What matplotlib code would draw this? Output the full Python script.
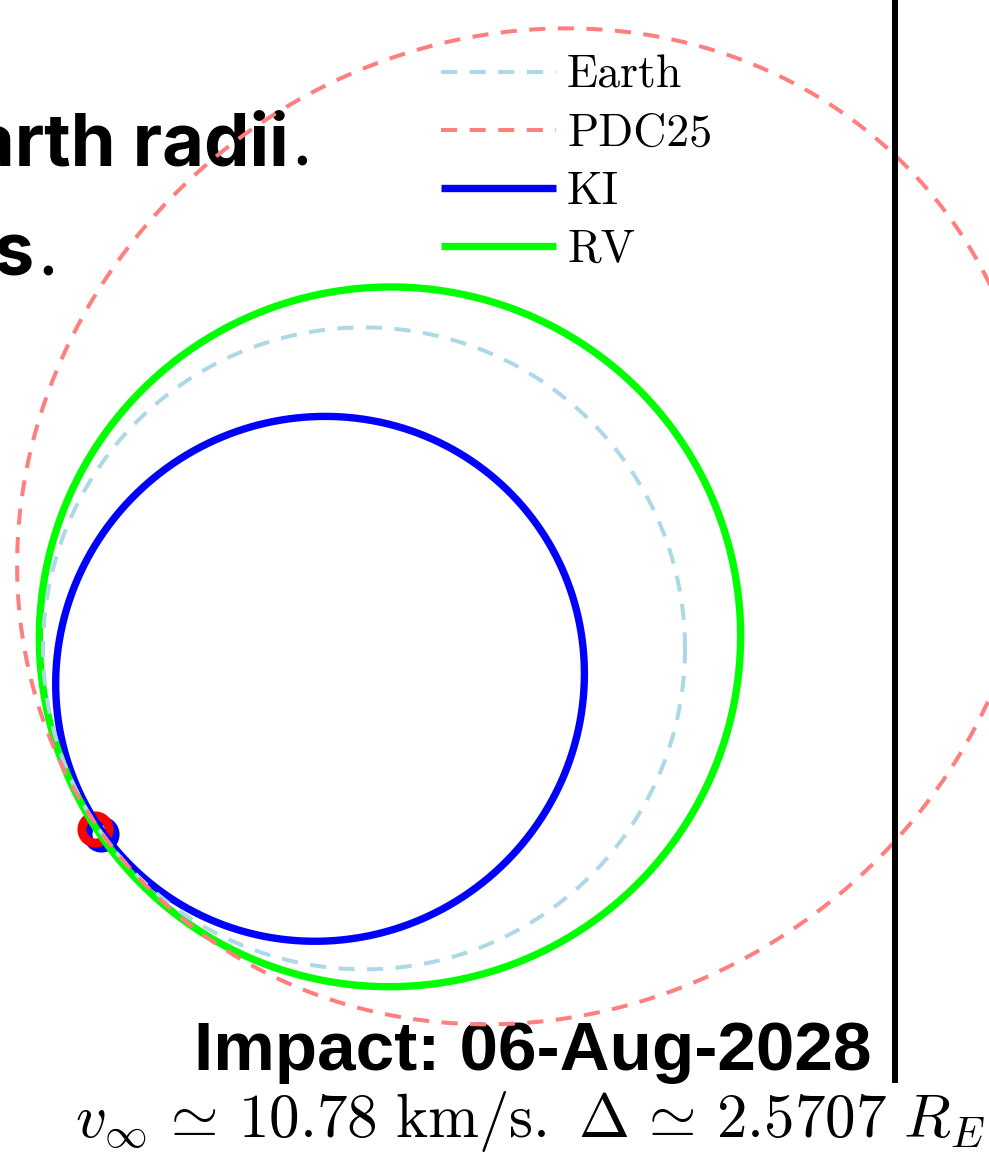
import numpy as np
import matplotlib.pyplot as plt
from matplotlib.lines import Line2D

plt.rcParams['mathtext.fontset'] = 'cm'

# heliocentric orbits in AU: semi-major axis, eccentricity, longitude of perihelion (deg)
orbit_names = ['Earth', 'PDC25', 'KI', 'RV']
orbit_a = [1.0, 1.632, 0.829, 1.093]
orbit_e = [0.0, 0.388, 0.201, 0.081]
orbit_w = [0.0, 216.9, 34.7, 204.0]

# positions at impact (AU)
pdc_pos = [-0.838, -0.562]
ki_pos = [-0.819, -0.578]

impact_date = '06-Aug-2028'
v_inf = 10.78      # km/s
delta = 2.5707     # Earth radii

colors = {'Earth': 'lightblue', 'PDC25': '#ff7f7f', 'KI': 'blue', 'RV': 'lime'}
styles = {'Earth': dict(lw=2.9, ls=(0, (4.0, 3.1)), zorder=3),
          'PDC25': dict(lw=2.9, ls=(0, (4.0, 3.1)), zorder=4),
          'KI': dict(lw=5.3, ls='-', zorder=2),
          'RV': dict(lw=5.3, ls='-', zorder=2)}

fig = plt.figure(figsize=(9.89, 11.61), dpi=100)
ax = fig.add_axes([0, 0, 1, 1])
ax.set_xlim(-1.134, 1.947)
ax.set_ylim(-1.597, 2.020)
ax.axis('off')

th = np.linspace(0, 2 * np.pi, 1441)
handles = {}
for name, a, e, w in zip(orbit_names, orbit_a, orbit_e, orbit_w):
    r = a * (1 - e**2) / (1 + e * np.cos(th - np.radians(w)))
    ln, = ax.plot(r * np.cos(th), r * np.sin(th), color=colors[name],
                  label=name, solid_capstyle='butt', **styles[name])
    handles[name] = ln

# impact markers
ax.plot(ki_pos[0], ki_pos[1], 'o', ms=19.5, mfc='none', mec='blue', mew=6.5, zorder=1.5)
ax.plot(pdc_pos[0], pdc_pos[1], 'o', ms=19.5, mfc='none', mec='red', mew=6.5, zorder=1.6)

ax.legend(handles=[handles[n] for n in orbit_names], loc='upper left',
          bbox_to_anchor=(441 / 989, 1 - 55 / 1161), bbox_transform=fig.transFigure,
          frameon=False, prop={'family': 'cmr10', 'size': 33},
          handlelength=2.5, handletextpad=0.25, labelspacing=0.36,
          borderpad=0, borderaxespad=0)

# separator on the right
fig.add_artist(Line2D([895 / 989, 895 / 989], [1 - 1080 / 1161, 1.0],
                      color='black', lw=4.3))

tr = fig.transFigure
ax.text(289 / 989, 1 - 165 / 1161, 'Earth radii', transform=tr, ha='right',
        va='baseline', family='Inter', weight='bold', fontsize=52, zorder=1)
ax.text(291 / 989, 1 - 165 / 1161, '.', transform=tr, ha='left',
        va='baseline', family='Inter', fontsize=52, zorder=1)
ax.text(34 / 989, 1 - 275 / 1161, 'days', transform=tr, ha='right',
        va='baseline', family='Inter', weight='bold', fontsize=52, zorder=1)
ax.text(37 / 989, 1 - 275 / 1161, '.', transform=tr, ha='left',
        va='baseline', family='Inter', fontsize=52, zorder=1)

ax.text(871 / 989, 1 - 1070 / 1161, 'Impact: ' + impact_date, transform=tr,
        ha='right', va='baseline', family='Liberation Sans', weight='bold',
        fontsize=49.9, zorder=1)
ax.text(75 / 989, 1 - 1137 / 1161,
        r'$v_\infty\,\simeq\,%.2f\ \mathrm{km/s.}\ \Delta\,\simeq\,%.4f\ R_E$' % (v_inf, delta),
        transform=tr, ha='left', va='baseline', fontsize=44, zorder=1)

fig.savefig('out.png', dpi=100)
